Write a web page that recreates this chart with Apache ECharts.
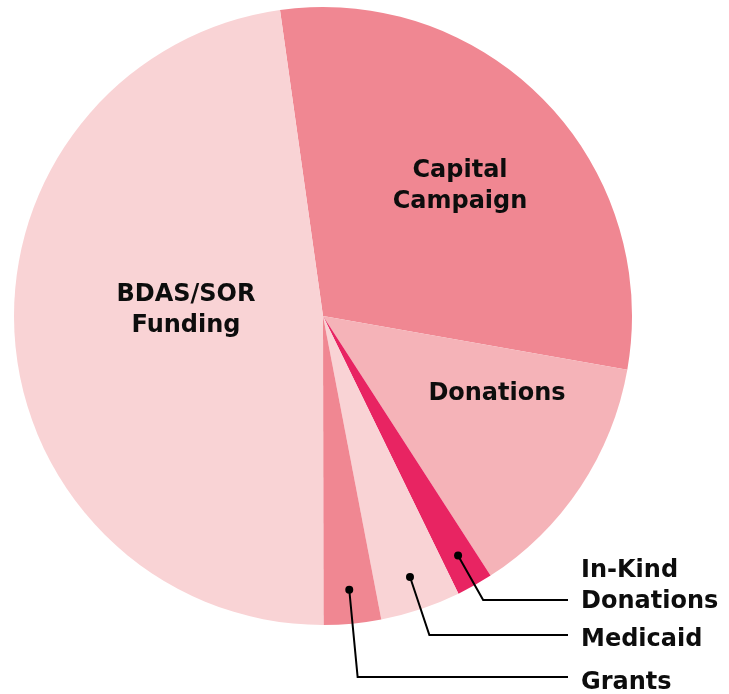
<!DOCTYPE html>
<html>
<head>
<meta charset="utf-8">
<script src="https://cdn.jsdelivr.net/npm/echarts@6/dist/echarts.min.js"></script>
<style>
  html, body { margin: 0; padding: 0; background: #fff; }
  #main { width: 729px; height: 694px; }
</style>
</head>
<body>
<div id="main"></div>
<script>
// slices, clockwise from just left of 12 o'clock
const categories = ["Capital\nCampaign", "Donations", "In-Kind\nDonations", "Medicaid", "Grants", "BDAS/SOR\nFunding"];
const values = [30.0, 13.1, 1.9, 4.2, 3.0, 47.8];
const colors = ["#f08792", "#f5b3b8", "#e82462", "#f9d3d5", "#f08792", "#f9d3d5"];
// which slices get a callout line instead of an inside label
const callout = [false, false, true, true, true, false];

const CENTER = [323, 316];
const R = 309;
const FONT = { fontFamily: "DejaVu Sans", fontWeight: "bold", fontSize: 24, color: "#0d0d0d", lineHeight: 31 };

// label placement (inside labels by centre, callouts by left edge)
const insidePos = { 0: [460, 186], 1: [497, 394], 5: [186, 310] };
const calloutPos = { 2: { labelY: 586, lineY: 600 }, 3: { labelY: 640, lineY: 635 }, 4: { labelY: 683, lineY: 677 } };

const chart = echarts.init(document.getElementById("main"));

const option = {
  animation: false,
  series: [
    {
      // main pie
      type: "pie",
      z: 1,
      center: CENTER,
      radius: [0, R],
      startAngle: 98,
      clockwise: true,
      silent: true,
      avoidLabelOverlap: false,
      data: categories.map((c, i) => ({
        name: c,
        value: values[i],
        itemStyle: { color: colors[i] },
        label: { show: !callout[i] }
      })),
      itemStyle: { borderWidth: 0 },
      label: Object.assign({ position: "inside", formatter: "{b}", align: "center" }, FONT),
      labelLine: { show: false },
      labelLayout: function (p) {
        const pos = insidePos[p.dataIndex];
        if (!pos) return {};
        return { x: pos[0], y: pos[1], align: "center", verticalAlign: "middle" };
      }
    },
    {
      // callout lines + outside labels
      type: "pie",
      z: 5,
      center: CENTER,
      radius: [0, 272],
      startAngle: 98,
      silent: true,
      avoidLabelOverlap: false,
      data: categories.map((c, i) => ({
        name: c,
        value: values[i],
        label: { show: callout[i] },
        labelLine: { show: callout[i] }
      })),
      itemStyle: { color: "rgba(0,0,0,0)" },
      label: Object.assign({ position: "outside", formatter: "{b}", align: "left" }, FONT),
      labelLine: { show: true, length: 20, length2: 10, lineStyle: { color: "#000", width: 2 } },
      labelLayout: function (p) {
        const c = calloutPos[p.dataIndex];
        if (!c || !p.labelLinePoints) return {};
        const p0 = p.labelLinePoints[0], p1 = p.labelLinePoints[1];
        const t = (c.lineY - p0[1]) / (p1[1] - p0[1]);
        const bend = [p0[0] + (p1[0] - p0[0]) * t, c.lineY];
        return {
          x: 581, y: c.labelY, align: "left", verticalAlign: "middle",
          labelLinePoints: [p0, bend, [568, c.lineY]]
        };
      }
    },
    {
      // black dots on small slices
      type: "pie",
      z: 6,
      center: CENTER,
      radius: [256, 288],
      startAngle: 98,
      silent: true,
      data: categories.map((c, i) => ({
        name: c,
        value: values[i],
        label: { show: callout[i] }
      })),
      itemStyle: { color: "rgba(0,0,0,0)" },
      label: {
        position: "inside",
        formatter: "{d| }",
        rich: { d: { width: 8, height: 8, borderRadius: 4, backgroundColor: "#000", fontSize: 1 } }
      },
      labelLine: { show: false }
    }
  ]
};

chart.setOption(option);
</script>
</body>
</html>
